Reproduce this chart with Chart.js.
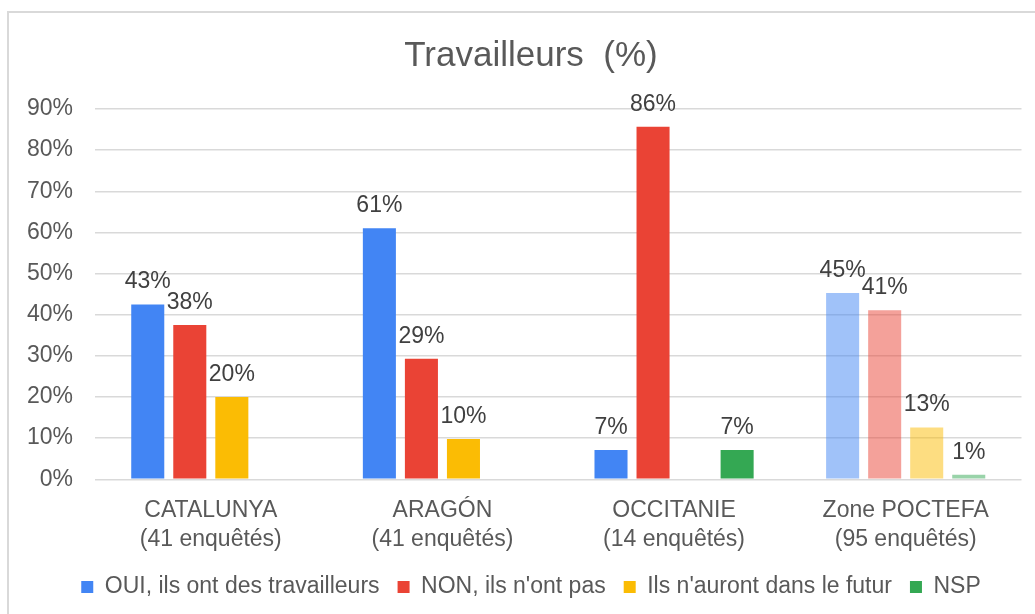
<!DOCTYPE html>
<html>
<head>
<meta charset="utf-8">
<title>Travailleurs (%)</title>
<script src="https://cdn.jsdelivr.net/npm/chart.js@4.4.1/dist/chart.umd.min.js"></script>
<style>
  html, body { margin: 0; padding: 0; background: #fff; }
  #wrap { position: relative; width: 1035px; height: 614px; overflow: hidden; }
  #frame { position: absolute; left: 7px; top: 11px; width: 2000px; height: 2000px;
           border-left: 2px solid #d9d9d9; border-top: 2px solid #d9d9d9; }
  #chartBox { position: absolute; left: 0; top: 0; width: 1062px; height: 614px; }
</style>
</head>
<body>
<div id="wrap">
  <div id="frame"></div>
  <div id="chartBox"><canvas id="workersChart"></canvas></div>
</div>
<script>
// chart values (percent)
const categories = [
  ["CATALUNYA", "(41 enquêtés)"],
  ["ARAGÓN", "(41 enquêtés)"],
  ["OCCITANIE", "(14 enquêtés)"],
  ["Zone POCTEFA", "(95 enquêtés)"]
];
const seriesNames = ["OUI, ils ont des travailleurs", "NON, ils n'ont pas", "Ils n'auront dans le futur", "NSP"];
const ouiValues = [42.5, 61.0, 7.1, 45.3];
const nonValues = [37.5, 29.3, 85.7, 41.1];
const futurValues = [20.0, 9.8, null, 12.6];
const nspValues = [null, null, 7.1, 1.1];
const yMax = 90;
const yStep = 10;

const seriesColors = ["#4285f4", "#ea4335", "#fbbc04", "#34a853"];
const fadedColors = ["rgba(66,133,244,0.5)", "rgba(234,67,53,0.5)", "rgba(251,188,4,0.5)", "rgba(52,168,83,0.5)"];

Chart.defaults.font.family = "'Liberation Sans', Arial, sans-serif";
Chart.defaults.color = "#595959";

// last category (Zone POCTEFA) drawn lighter
function barColors(i) {
  return categories.map((c, j) => j === categories.length - 1 ? fadedColors[i] : seriesColors[i]);
}

// value labels above bars
const valueLabels = {
  id: "valueLabels",
  afterDatasetsDraw(chart) {
    const ctx = chart.ctx;
    ctx.save();
    ctx.font = "23px 'Liberation Sans', Arial, sans-serif";
    ctx.fillStyle = "#404040";
    ctx.textAlign = "center";
    ctx.textBaseline = "alphabetic";
    chart.data.datasets.forEach((ds, i) => {
      const meta = chart.getDatasetMeta(i);
      meta.data.forEach((bar, j) => {
        const v = ds.data[j];
        if (v === null || v === undefined) return;
        ctx.fillText(Math.round(v) + "%", bar.x, bar.y - 16);
      });
    });
    ctx.restore();
  }
};

const allValues = [ouiValues, nonValues, futurValues, nspValues];

new Chart(document.getElementById("workersChart"), {
  type: "bar",
  data: {
    labels: categories,
    datasets: allValues.map((vals, i) => ({
      label: seriesNames[i],
      data: vals,
      backgroundColor: barColors(i),
      borderWidth: 0,
      barPercentage: 0.786,
      categoryPercentage: 0.726
    }))
  },
  options: {
    responsive: true,
    maintainAspectRatio: false,
    animation: false,
    layout: { padding: { left: 0, right: 0, top: 0, bottom: 5.5 } },
    plugins: {
      title: {
        display: true,
        text: "Travailleurs  (%)",
        color: "#595959",
        font: { size: 35, weight: "normal" },
        padding: { top: 35, bottom: 32 }
      },
      legend: {
        position: "bottom",
        labels: {
          boxWidth: 12,
          boxHeight: 12,
          padding: 18,
          color: "#595959",
          font: { size: 23 }
        }
      },
      tooltip: { enabled: false }
    },
    scales: {
      x: {
        grid: { display: false },
        border: { display: false },
        ticks: {
          color: "#595959",
          font: { size: 23, lineHeight: 1.26 },
          padding: 9,
          maxRotation: 0,
          autoSkip: false
        },
        afterFit(scale) { scale.height = 78.2; }
      },
      y: {
        min: 0,
        max: yMax,
        grid: { color: "#d9d9d9", lineWidth: 1.5, drawTicks: false },
        border: { display: false },
        ticks: {
          stepSize: yStep,
          color: "#595959",
          font: { size: 23 },
          padding: 22,
          callback: v => v + "%"
        },
        afterFit(scale) { scale.width = 95; }
      },
      // empty right-hand spacer so title and legend centre like the original
      spacer: {
        type: "linear",
        position: "right",
        min: 0,
        max: yMax,
        grid: { display: false },
        border: { display: false },
        ticks: { display: false },
        afterFit(scale) { scale.width = 40.5; }
      }
    }
  },
  plugins: [valueLabels]
});
</script>
</body>
</html>
